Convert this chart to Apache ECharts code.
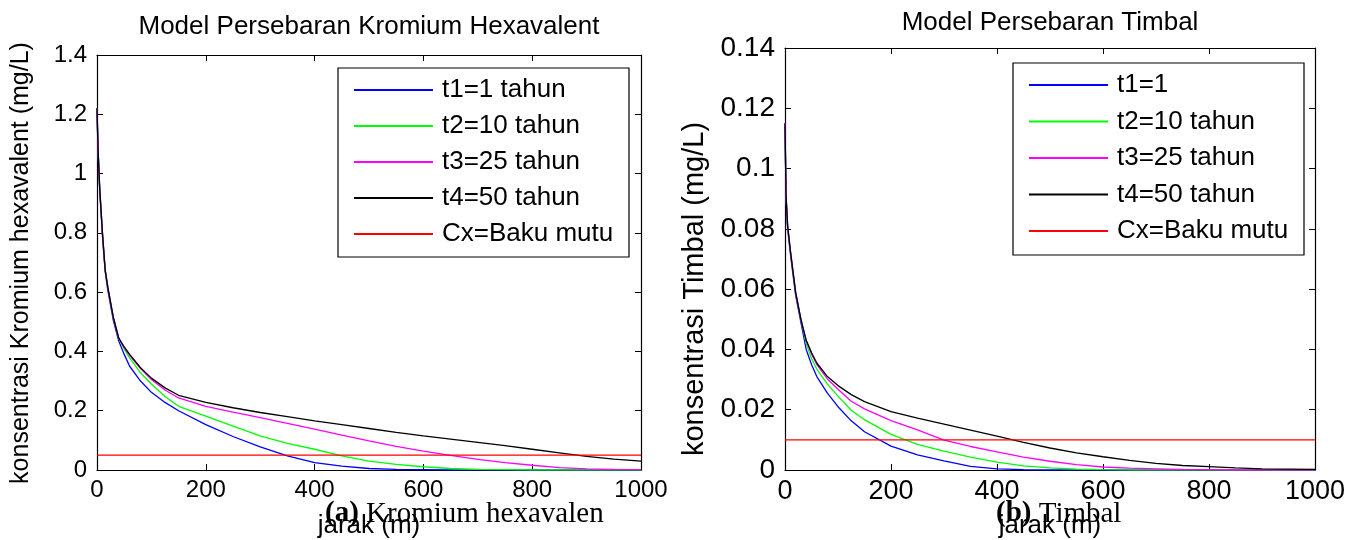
<!DOCTYPE html>
<html>
<head>
    <meta charset="utf-8">
    <title>Model Persebaran</title>
    <script src="https://cdn.jsdelivr.net/npm/echarts@6/dist/echarts.min.js"></script>
    <style>
        html, body { margin: 0; padding: 0; background: #fff; }
    </style>
</head>
<body>
    <div id="main" style="width: 1358px; height: 540px;"></div>

    <script>
        // jarak (m) - shared x positions for every curve
        var jarak = [0, 2, 5, 10, 15, 20, 30, 40, 50, 60, 80, 100, 125, 150, 200, 250, 300, 350, 400, 450, 500, 550, 600, 650, 700, 750, 800, 850, 900, 950, 1000];

        // (a) Kromium hexavalent, mg/L
        var krT1 = [1.21, 1.07, 0.94, 0.79, 0.67, 0.605, 0.505, 0.435, 0.39, 0.35, 0.30, 0.262, 0.228, 0.2, 0.153, 0.113, 0.078, 0.048, 0.025, 0.013, 0.005, 0.002, 0.001, 0, 0, 0, 0, 0, 0, 0, 0];
        var krT2 = [1.22, 1.08, 0.95, 0.80, 0.675, 0.615, 0.515, 0.443, 0.408, 0.378, 0.328, 0.29, 0.248, 0.215, 0.182, 0.148, 0.115, 0.09, 0.07, 0.048, 0.03, 0.019, 0.011, 0.005, 0.002, 0.001, 0, 0, 0, 0, 0];
        var krT3 = [1.22, 1.08, 0.95, 0.80, 0.675, 0.615, 0.515, 0.445, 0.413, 0.387, 0.342, 0.305, 0.27, 0.243, 0.215, 0.195, 0.177, 0.157, 0.138, 0.118, 0.098, 0.08, 0.064, 0.049, 0.036, 0.025, 0.016, 0.008, 0.004, 0.002, 0.001];
        var krT4 = [1.22, 1.08, 0.95, 0.80, 0.675, 0.615, 0.515, 0.445, 0.415, 0.39, 0.345, 0.31, 0.277, 0.252, 0.228, 0.21, 0.194, 0.18, 0.166, 0.153, 0.14, 0.127, 0.115, 0.104, 0.093, 0.082, 0.07, 0.058, 0.046, 0.037, 0.03];
        var krBaku = 0.05;

        // (b) Timbal, mg/L
        var pbT1 = [0.114, 0.09, 0.08, 0.072, 0.065, 0.058, 0.049, 0.04, 0.035, 0.031, 0.0255, 0.021, 0.0163, 0.0127, 0.0079, 0.005, 0.003, 0.0012, 0.0004, 0.0001, 0, 0, 0, 0, 0, 0, 0, 0, 0, 0, 0];
        var pbT2 = [0.115, 0.091, 0.081, 0.073, 0.066, 0.059, 0.05, 0.042, 0.037, 0.0335, 0.0285, 0.0245, 0.0198, 0.0167, 0.0118, 0.0085, 0.0063, 0.0043, 0.0026, 0.0014, 0.0007, 0.0003, 0.0001, 0, 0, 0, 0, 0, 0, 0, 0];
        var pbT3 = [0.115, 0.091, 0.081, 0.073, 0.066, 0.059, 0.05, 0.043, 0.0385, 0.035, 0.0302, 0.0268, 0.0228, 0.0203, 0.0164, 0.0133, 0.0099, 0.0078, 0.006, 0.0043, 0.0029, 0.0018, 0.001, 0.0006, 0.0004, 0.0002, 0.0001, 0, 0, 0, 0];
        var pbT4 = [0.115, 0.091, 0.081, 0.073, 0.066, 0.059, 0.05, 0.043, 0.039, 0.0355, 0.031, 0.028, 0.025, 0.0227, 0.0194, 0.0172, 0.0152, 0.0132, 0.0112, 0.0092, 0.0073, 0.0057, 0.0044, 0.0032, 0.0022, 0.0015, 0.0011, 0.0007, 0.0004, 0.0003, 0.0002];
        var pbBaku = 0.01;

        var namesKr = ['t1=1 tahun', 't2=10 tahun', 't3=25 tahun', 't4=50 tahun', 'Cx=Baku mutu'];
        var namesPb = ['t1=1', 't2=10 tahun', 't3=25 tahun', 't4=50 tahun', 'Cx=Baku mutu'];
        var warna = ['#0000ff', '#00ff00', '#ff00ff', '#000000', '#ff0000'];

        var SANS = "'Liberation Sans', Arial, sans-serif";
        var SERIF = "'Liberation Serif', 'Times New Roman', serif";

        var myChart = echarts.init(document.getElementById('main'), null, { renderer: 'canvas' });

        function pasang(ys) {
            return jarak.map(function (x, i) { return [x, ys[i]]; });
        }

        function garisSeri(name, ys, idx, axisIdx) {
            return {
                name: name,
                type: 'line',
                xAxisIndex: axisIdx,
                yAxisIndex: axisIdx,
                showSymbol: false,
                color: warna[idx],
                lineStyle: { color: warna[idx], width: 1.3 },
                data: pasang(ys)
            };
        }

        function bakuSeri(name, val, axisIdx) {
            return {
                name: name,
                type: 'line',
                xAxisIndex: axisIdx,
                yAxisIndex: axisIdx,
                showSymbol: false,
                color: warna[4],
                lineStyle: { color: warna[4], width: 1.3 },
                data: [[jarak[0], val], [jarak[jarak.length - 1], val]]
            };
        }

        var garisHitam = { show: true, onZero: false, lineStyle: { color: '#000', width: 1.2 } };
        var tickDalam = { show: true, inside: true, length: 6, lineStyle: { color: '#000', width: 1 } };

        // x axis: no thousands separator (MATLAB shows 1000)
        function sumbuX(gridIdx, showLabel, pos, fs) {
            return {
                type: 'value', gridIndex: gridIdx, position: pos,
                min: 0, max: 1000, interval: 200,
                axisLine: garisHitam, axisTick: tickDalam, splitLine: { show: false },
                axisLabel: {
                    show: showLabel, color: '#000', fontSize: fs, fontFamily: SANS, margin: 8,
                    formatter: function (v) { return String(v); }
                },
                name: showLabel ? 'jarak (m)' : '',
                nameLocation: 'middle', nameGap: 43,
                nameTextStyle: { color: '#000', fontSize: 26, fontFamily: SANS }
            };
        }

        function sumbuY(gridIdx, showLabel, pos, maxV, step, fs) {
            return {
                type: 'value', gridIndex: gridIdx, position: pos,
                min: 0, max: maxV, interval: step,
                axisLine: garisHitam, axisTick: tickDalam, splitLine: { show: false },
                axisLabel: { show: showLabel, color: '#000', fontSize: fs, fontFamily: SANS, margin: 10 }
            };
        }

        function legenda(names, left, top, gap) {
            return {
                data: names,
                orient: 'vertical',
                left: left, top: top,
                padding: 0,
                itemGap: gap,
                itemWidth: 79, itemHeight: 2,
                icon: 'rect',
                selectedMode: false,
                itemStyle: { borderWidth: 0 },
                textStyle: { color: '#000', fontSize: 26, lineHeight: 26, fontFamily: SANS, padding: [0, 0, 0, 4] }
            };
        }

        var option = {
            animation: false,
            backgroundColor: '#fff',
            grid: [
                { left: 97, top: 55, width: 544, height: 415, outerBoundsMode: 'none' },
                { left: 785, top: 48, width: 530, height: 422, outerBoundsMode: 'none' }
            ],
            xAxis: [
                sumbuX(0, true, 'bottom', 24),
                sumbuX(1, true, 'bottom', 27),
                sumbuX(0, false, 'top', 24),
                sumbuX(1, false, 'top', 27)
            ],
            yAxis: [
                sumbuY(0, true, 'left', 1.4, 0.2, 24),
                sumbuY(1, true, 'left', 0.14, 0.02, 28),
                sumbuY(0, false, 'right', 1.4, 0.2, 24),
                sumbuY(1, false, 'right', 0.14, 0.02, 28)
            ],
            legend: [
                legenda(namesKr, 354, 77, 10),
                legenda(namesPb, 1029, 72, 10.5)
            ],
            graphic: [
                { type: 'rect', shape: { x: 338, y: 68, width: 291, height: 189 },
                  style: { fill: 'rgba(0,0,0,0)', stroke: '#000', lineWidth: 1.2 }, z: 1, silent: true },
                { type: 'rect', shape: { x: 1013, y: 63, width: 291, height: 192 },
                  style: { fill: 'rgba(0,0,0,0)', stroke: '#000', lineWidth: 1.2 }, z: 1, silent: true },
                { type: 'text', x: 369, y: 27, z: 10,
                  style: { text: 'Model Persebaran Kromium Hexavalent', fill: '#000', font: '26px ' + SANS, align: 'center', verticalAlign: 'middle' } },
                { type: 'text', x: 1050, y: 23, z: 10,
                  style: { text: 'Model Persebaran Timbal', fill: '#000', font: '26px ' + SANS, align: 'center', verticalAlign: 'middle' } },
                // y axis titles
                { type: 'text', x: 21, y: 263, rotation: Math.PI / 2, z: 10,
                  style: { text: 'konsentrasi Kromium hexavalent (mg/L)', fill: '#000', font: '25px ' + SANS, align: 'center', verticalAlign: 'middle' } },
                { type: 'text', x: 695, y: 289, rotation: Math.PI / 2, z: 10,
                  style: { text: 'konsentrasi Timbal (mg/L)', fill: '#000', font: '29px ' + SANS, align: 'center', verticalAlign: 'middle' } },
                // figure captions
                { type: 'text', x: 325, y: 514, z: 20,
                  style: { text: '{b|(a)} Kromium hexavalen', fill: '#000', fontSize: 29, fontFamily: SERIF, align: 'left', verticalAlign: 'middle',
                           rich: { b: { fontWeight: 'bold', fontSize: 29, fontFamily: SERIF, fill: '#000' } } } },
                { type: 'text', x: 996, y: 514, z: 20,
                  style: { text: '{b|(b)} Timbal', fill: '#000', fontSize: 29, fontFamily: SERIF, align: 'left', verticalAlign: 'middle',
                           rich: { b: { fontWeight: 'bold', fontSize: 29, fontFamily: SERIF, fill: '#000' } } } }
            ],
            series: [
                garisSeri(namesKr[0], krT1, 0, 0),
                garisSeri(namesKr[1], krT2, 1, 0),
                garisSeri(namesKr[2], krT3, 2, 0),
                garisSeri(namesKr[3], krT4, 3, 0),
                bakuSeri(namesKr[4], krBaku, 0),
                garisSeri(namesPb[0], pbT1, 0, 1),
                garisSeri(namesPb[1], pbT2, 1, 1),
                garisSeri(namesPb[2], pbT3, 2, 1),
                garisSeri(namesPb[3], pbT4, 3, 1),
                bakuSeri(namesPb[4], pbBaku, 1)
            ]
        };

        myChart.setOption(option);
    </script>
</body>
</html>
